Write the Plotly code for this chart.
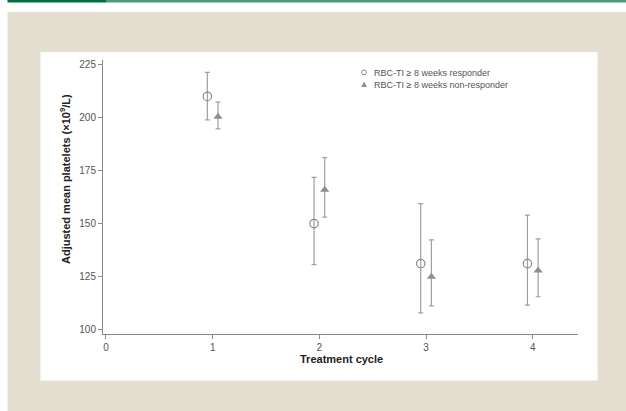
import plotly.graph_objects as go

# ---- data ----
cycles = [1, 2, 3, 4]
resp_mean = [209.8, 150.0, 131.2, 131.2]
resp_upper = [221.1, 171.7, 159.4, 154.0]
resp_lower = [198.8, 130.7, 108.0, 111.7]
nonresp_mean = [200.2, 165.9, 125.0, 128.0]
nonresp_upper = [207.1, 181.0, 142.3, 142.8]
nonresp_lower = [194.5, 153.0, 111.3, 115.6]
x_ticks = [0, 1, 2, 3, 4]
y_ticks = [100, 125, 150, 175, 200, 225]
series_names = ["RBC-TI \u2265 8 weeks responder", "RBC-TI \u2265 8 weeks non-responder"]
offset = 0.05

W, H = 626, 411
L, R, T, B = 103, 48, 60, 77
pw, ph = W - L - R, H - T - B

def px(x):
    return (x - L) / pw

def py(y):
    return (H - B - y) / ph

fig = go.Figure()
fig.add_trace(go.Scatter(
    x=[c - offset for c in cycles], y=resp_mean, mode="markers", name=series_names[0],
    showlegend=False,
    marker=dict(symbol="circle-open", size=8.5, color="#8a8a8a", line=dict(width=1.2, color="#8a8a8a")),
    error_y=dict(type="data", symmetric=False,
                 array=[u - m for u, m in zip(resp_upper, resp_mean)],
                 arrayminus=[m - l for m, l in zip(resp_mean, resp_lower)],
                 color="#a0a0a0", thickness=1.2, width=2.5),
))
fig.add_trace(go.Scatter(
    x=[c + offset for c in cycles], y=nonresp_mean, mode="markers", name=series_names[1],
    showlegend=False,
    marker=dict(symbol="triangle-up", size=8, color="#8e8e8e"),
    error_y=dict(type="data", symmetric=False,
                 array=[u - m for u, m in zip(nonresp_upper, nonresp_mean)],
                 arrayminus=[m - l for m, l in zip(nonresp_mean, nonresp_lower)],
                 color="#a0a0a0", thickness=1.2, width=2.5),
))

shapes = [
    # beige frame
    dict(type="rect", xref="paper", yref="paper", x0=px(7.5), x1=px(W + 2), y0=py(12), y1=py(H + 2),
         fillcolor="#e5dfd2", line=dict(width=0), layer="below"),
    # white panel
    dict(type="rect", xref="paper", yref="paper", x0=px(40.5), x1=px(597.5), y0=py(52), y1=py(380.5),
         fillcolor="white", line=dict(width=0), layer="below"),
    # green bars
    dict(type="rect", xref="paper", yref="paper", x0=px(7.5), x1=px(106), y0=py(0), y1=py(2.5),
         fillcolor="#006f47", line=dict(width=0), layer="below"),
    dict(type="rect", xref="paper", yref="paper", x0=px(106), x1=px(W + 2), y0=py(0), y1=py(2.5),
         fillcolor="#4f9a7f", line=dict(width=0), layer="below"),
    # legend keys
    dict(type="circle", xref="paper", yref="paper", x0=px(361.7), x1=px(366.5), y0=py(70), y1=py(74.8),
         fillcolor="rgba(0,0,0,0)", line=dict(width=1, color="#8a8a8a")),
    dict(type="path", xref="paper", yref="paper",
         path=f"M {px(361.3)} {py(87)} L {px(367)} {py(87)} L {px(364.15)} {py(81.5)} Z",
         fillcolor="#8e8e8e", line=dict(width=0)),
]

annotations = [
    dict(text="<b>Adjusted mean platelets (\u00d710<sup>9</sup>/L)</b>", textangle=-90,
         xref="paper", yref="paper", x=px(65), y=py(179), showarrow=False,
         font=dict(size=11, color="#222", family="Liberation Sans, Arial"),
         xanchor="center", yanchor="middle"),
    dict(text="<b>Treatment cycle</b>",
         xref="paper", yref="paper", x=px(341), y=py(359), showarrow=False,
         font=dict(size=11, color="#222", family="Liberation Sans, Arial"),
         xanchor="center", yanchor="middle"),
    dict(text=series_names[0], xref="paper", yref="paper", x=px(372), y=py(72.5),
         showarrow=False, xanchor="left", yanchor="middle",
         font=dict(size=9, color="#555")),
    dict(text=series_names[1], xref="paper", yref="paper", x=px(372), y=py(84.5),
         showarrow=False, xanchor="left", yanchor="middle",
         font=dict(size=9, color="#555")),
]

fig.update_layout(
    width=W, height=H,
    margin=dict(l=L, r=R, t=T, b=B, pad=0),
    paper_bgcolor="white", plot_bgcolor="rgba(0,0,0,0)",
    font=dict(family="Liberation Sans, Arial", size=10, color="#555"),
    shapes=shapes, annotations=annotations,
    showlegend=False,
    xaxis=dict(range=[-0.028, 4.424], tickvals=x_ticks, ticks="outside", ticklen=4,
               tickcolor="#8a8a8a", showline=True, linecolor="#8a8a8a", linewidth=1,
               showgrid=False, zeroline=False, tickfont=dict(size=10, color="#555")),
    yaxis=dict(range=[98.1, 226.9], tickvals=y_ticks, ticks="outside", ticklen=4,
               tickcolor="#8a8a8a", showline=True, linecolor="#8a8a8a", linewidth=1,
               showgrid=False, zeroline=False, tickfont=dict(size=10, color="#555")),
)

fig.write_html("out.html", config={"displayModeBar": False},
               post_script="document.body.style.margin='0';document.body.style.padding='0';")
